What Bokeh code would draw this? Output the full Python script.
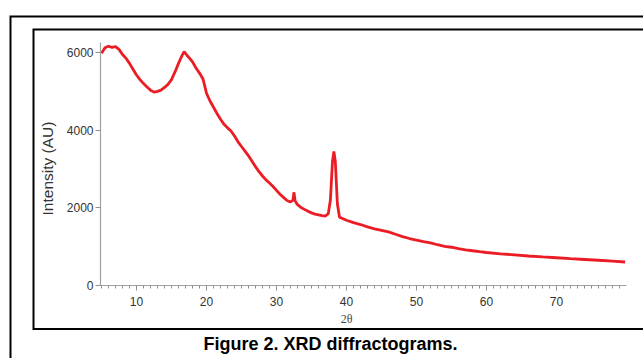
from bokeh.plotting import figure
from bokeh.models import LinearAxis, FixedTicker, Range1d
from bokeh.embed import file_html
from bokeh.resources import INLINE
from bokeh.core.properties import value

# ---- data ----
two_theta = [5.0, 5.5, 6.0, 6.5, 7.0, 7.5, 8.0, 8.5, 9.0, 9.5, 10.0, 10.5, 11.0, 11.5,
             12.0, 12.5, 13.0, 13.5, 14.0, 14.5, 15.0, 15.5, 16.0, 16.5, 16.8, 17.2, 17.6,
             18.0, 18.5, 19.0, 19.5, 20.0, 20.5, 21.0, 21.5, 22.0, 22.5, 23.0, 23.5, 24.0,
             24.5, 25.0, 25.5, 26.0, 26.5, 27.0, 27.5, 28.0, 28.5, 29.0, 29.5, 30.0, 30.5,
             31.0, 31.5, 32.0, 32.35, 32.5, 32.65, 33.0, 33.5, 34.0, 34.5, 35.0, 35.5, 36.0,
             36.5, 37.0, 37.4, 37.7, 38.0, 38.2, 38.4, 38.7, 39.0, 39.5, 40.0, 41.0, 42.0,
             43.0, 44.0, 45.0, 46.0, 47.0, 48.0, 49.0, 50.0, 51.0, 52.0, 53.0, 54.0, 55.0,
             56.0, 57.0, 58.0, 59.0, 60.0, 62.0, 64.0, 66.0, 68.0, 70.0, 72.0, 74.0, 76.0,
             78.0, 79.8]
intensity = [5980, 6120, 6160, 6130, 6150, 6080, 5950, 5850, 5720, 5570, 5420, 5300, 5200, 5110,
             5030, 4980, 5000, 5030, 5100, 5180, 5300, 5500, 5720, 5920, 6020, 5930, 5850,
             5760, 5600, 5470, 5320, 4950, 4750, 4590, 4430, 4280, 4150, 4060, 3980, 3850,
             3700, 3580, 3460, 3340, 3200, 3060, 2930, 2820, 2720, 2640, 2550, 2450, 2350,
             2270, 2190, 2150, 2200, 2400, 2180, 2080, 2010, 1960, 1910, 1870, 1840, 1820,
             1800, 1790, 1850, 2200, 3200, 3450, 3200, 2100, 1760, 1720, 1680, 1620, 1570,
             1510, 1460, 1420, 1380, 1320, 1260, 1210, 1170, 1130, 1100, 1050, 1010, 985,
             950, 920, 895, 870, 850, 815, 790, 760, 735, 715, 690, 670, 650,
             630, 605]
x_major_ticks = [10, 20, 30, 40, 50, 60, 70]
x_minor_ticks = [v for v in range(5, 80) if v % 10 != 0]
y_major_ticks = [0, 2000, 4000, 6000]
x_axis_end = 80
y_axis_end = 6250
x_title = "2θ"
y_title = "Intensity (AU)"
caption = "Figure 2. XRD diffractograms."

# ---- layout: whole canvas is the data frame; helpers convert page pixels ----
W, H = 643, 358
PAGE_OFF = 0


def px2x(px):
    return 10 + (px - 136) / 7.0


def px2y(py):
    return (285 - py) / (233.0 / 6000.0)


p = figure(width=W, height=H, x_range=Range1d(px2x(PAGE_OFF), px2x(PAGE_OFF + W)),
           y_range=Range1d(px2y(PAGE_OFF + H), px2y(PAGE_OFF)),
           title=None, toolbar_location=None, output_backend="svg",
           x_axis_location=None, y_axis_location=None, min_border=0,
           outline_line_color=None, background_fill_color="white",
           border_fill_color="white")
for g in p.grid:
    g.visible = False

# frames
p.multi_line(xs=[[px2x(700), px2x(10), px2x(10)],
                 [px2x(700), px2x(33), px2x(33), px2x(700)]],
             ys=[[px2y(16), px2y(16), px2y(400)],
                 [px2y(29), px2y(29), px2y(328.5), px2y(328.5)]],
             line_color="black", line_width=2, line_join="miter")

# data line
p.line(two_theta, intensity, line_color="#ec1c24", line_width=2.8)

# axes
y_axis_x = px2x(100)
yax = LinearAxis(fixed_location=y_axis_x, bounds=(0, y_axis_end),
                 ticker=FixedTicker(ticks=y_major_ticks))
xax = LinearAxis(fixed_location=0, bounds=(y_axis_x, x_axis_end),
                 ticker=FixedTicker(ticks=x_major_ticks, minor_ticks=x_minor_ticks))
for ax in (yax, xax):
    ax.axis_line_color = "#a0a0a0"
    ax.axis_line_width = 1.2
    ax.major_tick_line_color = "#909090"
    ax.minor_tick_line_color = "#909090"
    ax.major_tick_in = 0
    ax.minor_tick_in = 0
    ax.major_label_text_font = "Liberation Sans"
    ax.major_label_text_font_size = "12px"
    ax.major_label_text_color = "#333333"
yax.major_tick_out = 5
yax.major_label_standoff = 2
xax.major_tick_out = 5
xax.minor_tick_out = 3
xax.major_label_standoff = 6
p.add_layout(yax, "left")
p.add_layout(xax, "below")

# axis titles and caption
p.text(x=[px2x(47)], y=[px2y(168)], text=[y_title], angle=1.5707963,
       text_font=value("Liberation Sans"), text_font_size="15.5px",
       text_color="#333333", text_align="center", text_baseline="middle")
p.text(x=[px2x(346)], y=[px2y(318)], text=[x_title],
       text_font=value("Liberation Serif"), text_font_size="12px",
       text_color="#444444", text_align="center", text_baseline="middle")
p.text(x=[px2x(330)], y=[px2y(343)], text=[caption],
       text_font=value("Liberation Sans"), text_font_size="18px",
       text_font_style="bold", text_color="black", text_align="center",
       text_baseline="middle")

open("out.html", "w").write(file_html(p, INLINE))
